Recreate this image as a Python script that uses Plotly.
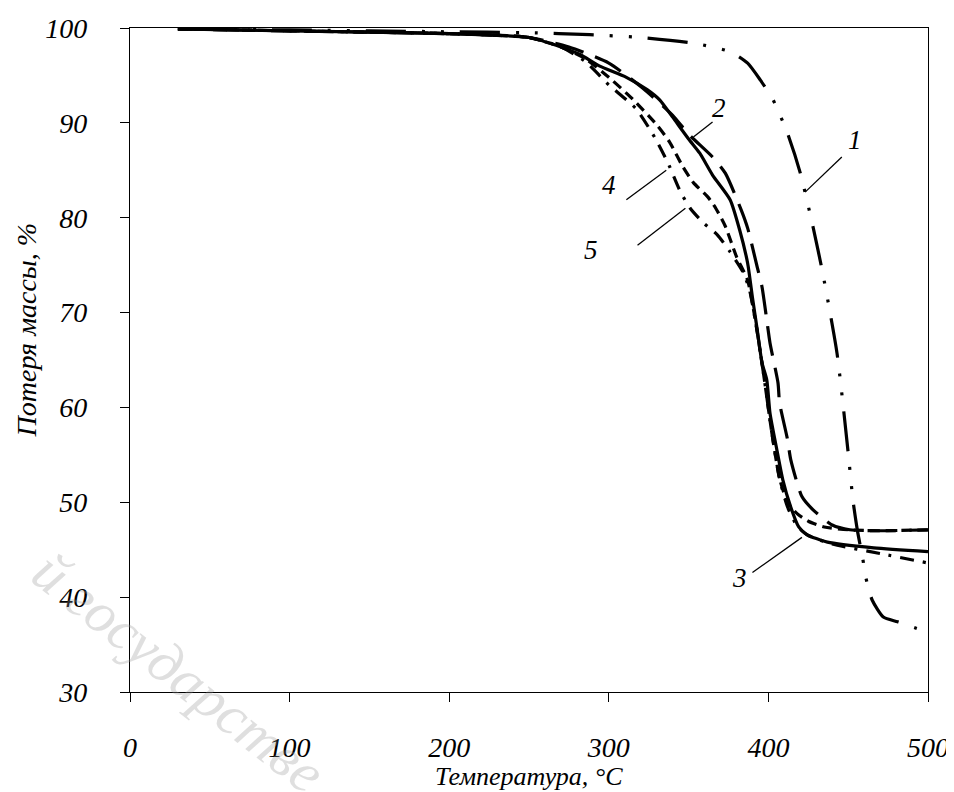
import plotly.graph_objects as go

# Temperature (°C) and mass (%), one pair per curve
T1 = [30, 100, 200, 250, 288, 320, 353, 376, 387, 395, 403, 412, 420, 428, 434, 443, 450, 453, 456, 459, 461, 465, 472, 481, 493, 500]
M1 = [99.9, 99.8, 99.6, 99.5, 99.3, 99.0, 98.4, 97.5, 96.3, 94.5, 92.4, 88.9, 84.7, 79.0, 74.2, 65.7, 55.2, 50.2, 46.8, 44.2, 42.1, 39.7, 37.9, 37.4, 36.7, 36.3]

T2 = [30, 100, 200, 250, 275, 300, 321, 340, 350, 365, 373, 383, 387, 393, 396, 399, 401, 406, 407, 412, 414, 421, 428, 440, 451, 470, 500]
M2 = [99.9, 99.7, 99.4, 99.0, 98.0, 96.3, 93.7, 90.8, 88.8, 86.4, 84.7, 80.8, 78.9, 74.8, 72.7, 69.2, 66.8, 62.6, 60.5, 56.6, 54.5, 50.6, 49.2, 47.6, 47.1, 47.0, 47.1]

T3 = [30, 100, 200, 250, 270, 282, 294, 311, 324, 332, 340, 350, 357, 365, 376, 382, 387, 390, 393, 396, 399, 401, 405, 409, 414, 419, 424, 437, 466, 500]
M3 = [99.9, 99.7, 99.4, 99.0, 98.0, 97.2, 96.0, 94.8, 93.5, 92.4, 90.6, 88.3, 86.8, 84.5, 81.9, 78.7, 75.2, 71.6, 68.2, 64.7, 62.9, 59.4, 55.8, 52.4, 49.5, 47.4, 46.6, 45.8, 45.2, 44.8]

T4 = [30, 100, 200, 250, 270, 285, 300, 315, 330, 338, 346, 353, 362, 367, 373, 380, 387, 392, 397, 402, 407, 412, 418, 425, 435, 450, 470, 500]
M4 = [99.9, 99.7, 99.4, 99.0, 98.0, 96.8, 94.8, 92.5, 89.8, 88.0, 85.5, 83.7, 82.2, 81.0, 79.1, 75.9, 73.4, 69.0, 63.5, 57.5, 52.5, 50.0, 48.8, 48.0, 47.4, 47.1, 47.0, 47.1]

T5 = [30, 100, 200, 250, 270, 285, 300, 317, 329, 337, 345, 351, 359, 368, 376, 384, 388, 392, 397, 402, 407, 412, 418, 425, 440, 470, 500]
M5 = [99.9, 99.7, 99.4, 99.0, 98.0, 96.5, 94.0, 91.5, 88.4, 85.8, 82.7, 81.0, 79.5, 78.2, 76.4, 74.3, 72.5, 69.0, 63.5, 57.5, 52.5, 49.5, 47.5, 46.5, 45.6, 44.6, 43.6]

X_TICKS = [0, 100, 200, 300, 400, 500]
Y_TICKS = [30, 40, 50, 60, 70, 80, 90, 100]

# curve labels: text, label position, pointer start, pointer end
LABELS = [
    ("1", 454, 88.2, 446, 86.4, 423, 82.7),
    ("2", 369, 91.6, 365, 90.1, 353, 88.5),
    ("3", 382, 42.0, 390, 42.6, 421, 46.3),
    ("4", 300, 83.4, 311, 81.9, 336, 85.0),
    ("5", 289, 76.6, 318, 77.1, 348, 81.0),
]

SERIF = "Liberation Serif, Times New Roman, serif"

fig = go.Figure()
styles = [
    (T1, M1, "40px,16px,3px,16px,3px,16px"),
    (T2, M2, "30px,12px"),
    (T3, M3, "solid"),
    (T4, M4, "10px,6px"),
    (T5, M5, "14px,9px,3px,9px"),
]
for t, m, dash in styles:
    fig.add_trace(go.Scatter(x=t, y=m, mode="lines", line=dict(color="black", width=3.2, dash=dash, shape="spline", smoothing=0.6), showlegend=False, hoverinfo="skip"))

for txt, lx, ly, x0, y0, x1, y1 in LABELS:
    fig.add_shape(type="line", x0=x0, y0=y0, x1=x1, y1=y1, line=dict(color="black", width=1.3))
    fig.add_annotation(x=lx, y=ly, text=txt, showarrow=False, font=dict(family=SERIF, size=27, color="black", style="italic"))

axis_common = dict(showgrid=False, zeroline=False, showline=True, linecolor="black", linewidth=1.3,
                   mirror=True, ticks="outside", ticklen=9, tickcolor="black", tickwidth=1.3, automargin=False,
                   tickfont=dict(family=SERIF, size=28, color="black", style="italic"))

fig.update_xaxes(range=[0, 500], tickvals=X_TICKS, ticklabelstandoff=21, **axis_common)
fig.update_yaxes(range=[30, 100], tickvals=Y_TICKS, ticklabelstandoff=27, **axis_common)

fig.add_annotation(xref="paper", yref="paper", x=0.5, y=-0.128, yanchor="middle", text="Температура, °C", showarrow=False,
                   font=dict(family=SERIF, size=26, color="black", style="italic"))
fig.add_annotation(xref="paper", yref="paper", x=-0.13, y=0.545, xanchor="center", yanchor="middle", text="Потеря массы, %", textangle=-90, showarrow=False,
                   font=dict(family=SERIF, size=28, color="black", style="italic"))
# faint watermark crossing the lower-left corner
fig.add_annotation(xref="paper", yref="paper", x=0.062, y=0.03, xanchor="center", yanchor="middle", text="й государстве", textangle=38, showarrow=False,
                   font=dict(family=SERIF, size=58, color="rgba(150,150,150,0.3)", style="italic"))

fig.update_layout(width=946, height=784, margin=dict(l=122, r=26, t=20, b=100),
                  plot_bgcolor="white", paper_bgcolor="white")
fig.write_html("out.html")
